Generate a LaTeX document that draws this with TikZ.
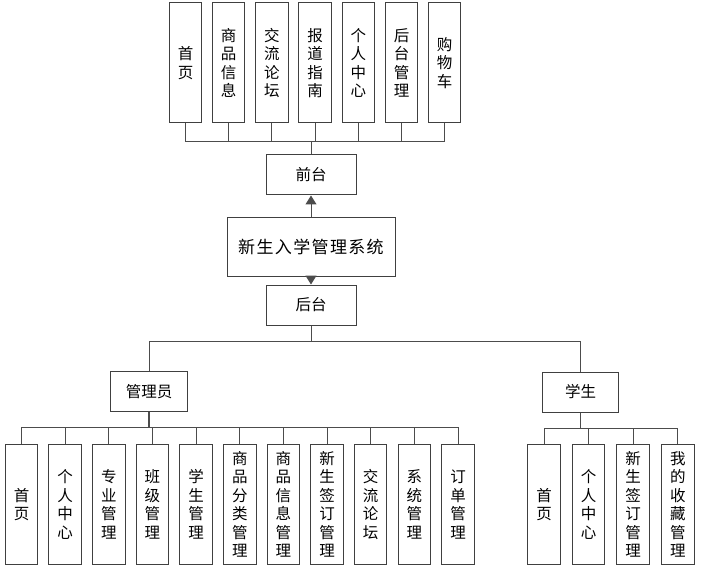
\documentclass[tikz,border=0pt]{standalone}
\usepackage{fontspec}
\setmainfont{Noto Sans CJK SC}
\usepackage{tikz}
\usetikzlibrary{arrows.meta}

\begin{document}
\begin{tikzpicture}[x=1pt, y=-1pt,
    box/.style={draw=black!75, line width=1pt, fill=white, inner sep=0pt,
        minimum width=90pt, minimum height=40pt,
        font=\fontsize{15.5}{18.5}\selectfont},
    vbox/.style={draw=black!75, line width=1pt, fill=white, inner sep=0pt,
        minimum width=32.5pt, minimum height=120pt, align=center,
        font=\fontsize{15.5}{18.5}\selectfont},
    link/.style={draw=black!70, line width=1pt},
    feed/.style={link, -{Triangle[width=11pt,length=9pt]}}]
    \useasboundingbox (0,0) rectangle (702,575);

    % --- Front end modules ---
    \foreach \lab [count=\i] in {{首\\页},{商\\品\\信\\息},{交\\流\\论\\坛},{报\\道\\指\\南},{个\\人\\中\\心},{后\\台\\管\\理},{购\\物\\车}} {
        \node[vbox] (t\i) at (185.5+43.2*\i-43.2, 63) {\lab};
    }

    % --- Core system ---
    \node[box] (front) at (311,175) {前台};
    \node[box, minimum width=168pt, minimum height=58pt,
        font=\fontsize{17}{20}\selectfont\addfontfeatures{LetterSpace=8}] (sys) at (311,247) {新生入学管理系统};
    \node[box] (back) at (311,305) {后台};

    % --- Roles ---
    \node[box, minimum width=77pt] (admin) at (149,391.5) {管理员};
    \node[box, minimum width=76pt] (stu) at (580.5,392) {学生};

    % --- Admin modules ---
    \foreach \lab [count=\i] in {{首\\页},{个\\人\\中\\心},{专\\业\\管\\理},{班\\级\\管\\理},{学\\生\\管\\理},{商\\品\\分\\类\\管\\理},{商\\品\\信\\息\\管\\理},{新\\生\\签\\订\\管\\理},{交\\流\\论\\坛},{系\\统\\管\\理},{订\\单\\管\\理}} {
        \node[vbox] (a\i) at (21.5+43.65*\i-43.65, 504.5) {\lab};
    }

    % --- Student modules ---
    \foreach \lab [count=\i] in {{首\\页},{个\\人\\中\\心},{新\\生\\签\\订\\管\\理},{我\\的\\收\\藏\\管\\理}} {
        \node[vbox] (s\i) at (544+44.6*\i-44.6, 504.5) {\lab};
    }

    % --- Buses ---
    \coordinate (topbus) at (311,141.7);
    \coordinate (rolebus) at (311,341);
    \coordinate (adminbus) at (149,427.3);
    \coordinate (stubus) at (580.5,428.3);

    % --- Connectors ---
    \foreach \i in {1,...,7} {
        \draw[link] (t\i.south) |- (topbus);
    }
    \draw[link] (topbus) -- (front.north);
    \draw[feed] (sys.north) -- (front.south);
    \draw[feed] (sys.south) -- (back.north);
    \draw[link] (back.south) -- (rolebus);
    \draw[link] (rolebus) -| (admin.north);
    \draw[link] (rolebus) -| (stu.north);
    \draw[link, line width=1.8pt] (admin.south) -- (adminbus);
    \foreach \i in {1,...,11} {
        \draw[link] (adminbus) -| (a\i.north);
    }
    \draw[link] (stu.south) -- (stubus);
    \foreach \i in {1,...,4} {
        \draw[link] (stubus) -| (s\i.north);
    }
\end{tikzpicture}
\end{document}
